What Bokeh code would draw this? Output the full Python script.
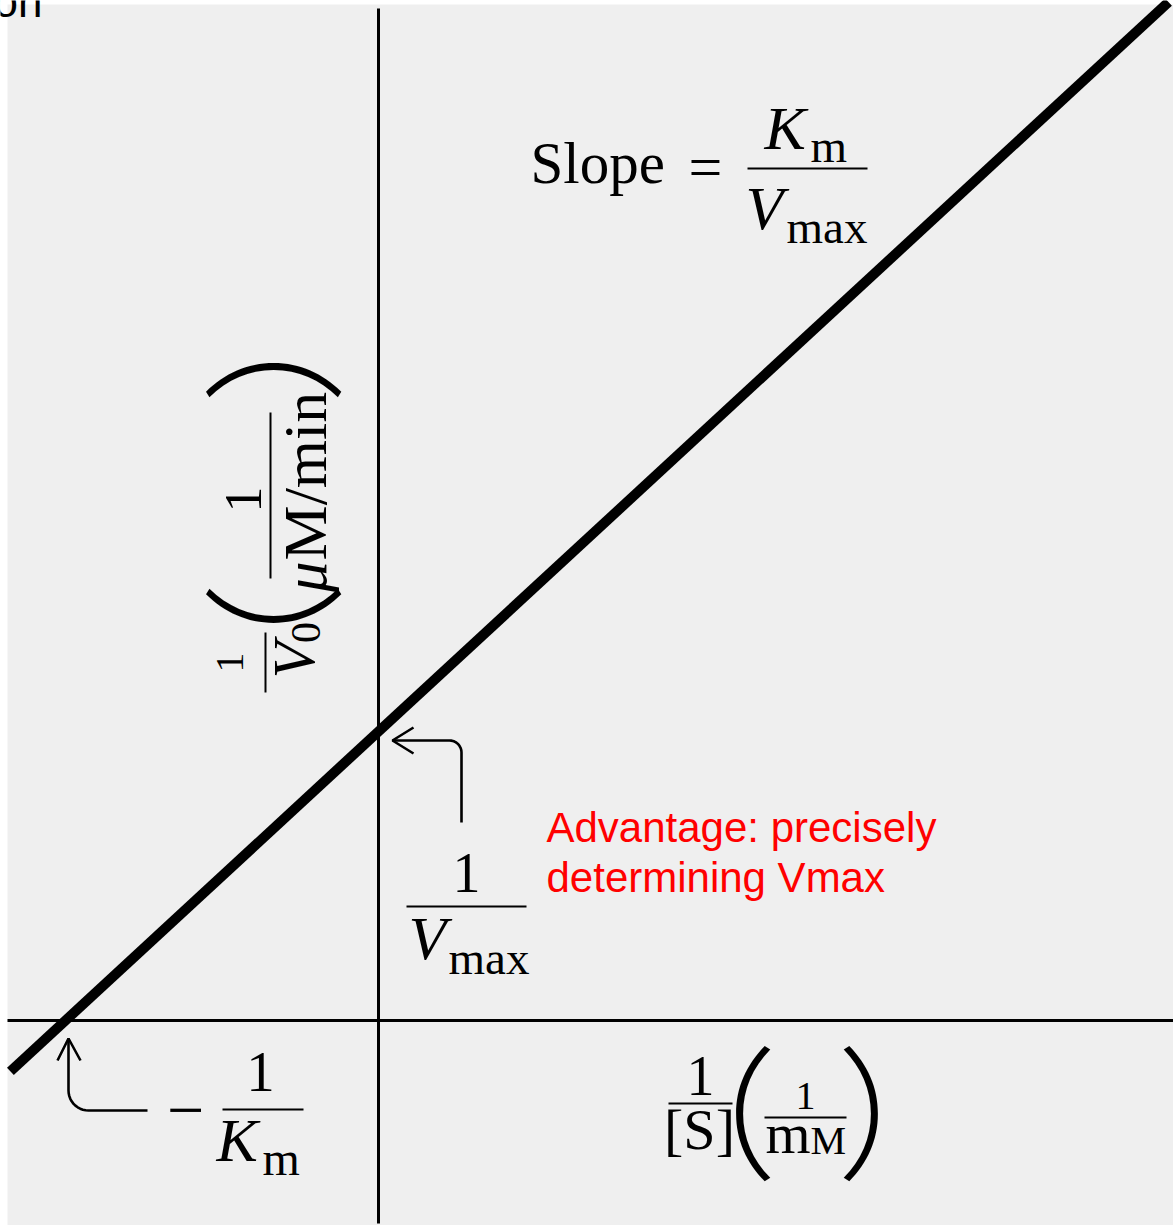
import math
import numpy as np
from bokeh.plotting import figure
from bokeh.models import Range1d
from bokeh.core.properties import value
from bokeh.embed import file_html
from bokeh.resources import INLINE

# Lineweaver-Burk (double reciprocal) plot
km = 2.0          # mM
vmax = 2.0        # uM/min
s_inv = [-0.588, 1.262]   # 1/[S] (1/mM), ends of the drawn line
v_inv = [-0.088, 1.762]   # 1/V0 (1/(uM/min)) at those ends

W, H = 1173, 1225
# canvas layout: where the origin sits and how many pixels per unit
OX, OY = 378, 1020
SX, SY = 626, 578


def X(px):
    return (px - OX) / SX


def Y(py):
    return (OY - py) / SY


p = figure(width=W, height=H, output_backend="svg", toolbar_location=None,
           x_range=Range1d(X(0), X(W)), y_range=Range1d(Y(H), Y(0)),
           x_axis_location=None, y_axis_location=None, min_border=0,
           background_fill_color="white", border_fill_color="white",
           outline_line_color=None)
p.grid.visible = False

# panel
p.quad(left=X(7), right=X(W), bottom=Y(H), top=Y(4),
       fill_color="#efefef", line_color=None)

# coordinate axes through the origin
p.line([X(7), X(W)], [0, 0], line_color="black", line_width=3)
p.line([0, 0], [Y(1223), Y(8)], line_color="black", line_width=3)

# the fitted line
p.line(s_inv, v_inv, line_color="black", line_width=10, line_cap="butt")

SERIF = value("Liberation Serif")
CJK = value("Noto Sans CJK SC Light")
R = math.pi / 2
# the svg text sits about this fraction of its size below the given baseline
K = 0.36
# fullwidth brackets sit off-centre in their em box
PO = 0.35


def tex(px, py, s, size, style="normal", align="left", angle=0.0,
        font=SERIF, color="black"):
    if angle:
        px -= K * size
    else:
        py -= K * size
    p.text(x=[X(px)], y=[Y(py)], text=[s], text_font=font,
           text_font_size=f"{size}px", text_font_style=style,
           text_align=align, text_baseline="alphabetic", angle=angle,
           text_color=color)


def paren(cx, cy, s, size, angle=0.0):
    sign = -1 if s == "（" else 1
    if angle:
        cx -= 9
        cy -= sign * PO * size
    else:
        cy -= 8
        cx += sign * PO * size
    p.text(x=[X(cx)], y=[Y(cy)], text=[s], text_font=CJK,
           text_font_size=f"{size}px", text_align="center",
           text_baseline="middle", angle=angle, text_color="black")


def rule(x0, y0, x1, y1, w=2):
    p.line([X(x0), X(x1)], [Y(y0), Y(y1)], line_color="black", line_width=w)


# Slope = Km / Vmax
tex(530, 184, "Slope", 59)
tex(705, 188, "=", 60, align="center")
rule(747, 168, 867, 168)
tex(764, 150, "K", 62, style="italic")
tex(810, 162, "m", 47)
tex(745, 230, "V", 62, style="italic")
tex(786, 243, "max", 47)

# y-axis label: 1/V0 (1/(uM/min)), rotated
tex(244, 662, "1", 40, align="center", angle=R)
rule(265, 632, 265, 692)
tex(315, 678, "V", 60, style="italic", angle=R)
tex(321, 632, "0", 42, align="center", angle=R)
paren(274, 603, "（", 143, angle=R)
tex(262, 499, "1", 52, align="center", angle=R)
rule(270, 412, 270, 578)
tex(327, 592, "μ", 62, style="italic", angle=R)
tex(327, 560, "M/min", 62, angle=R)
paren(274, 382, "）", 143, angle=R)

# 1/Vmax label and its arrow
tex(466, 893, "1", 56, align="center")
rule(406, 906, 526, 906)
tex(408, 960, "V", 62, style="italic")
tex(448, 974, "max", 47)

t = np.linspace(0, math.pi / 2, 12)
ax = [461, 461] + list(449 + 12 * np.cos(t)) + [392]
ay = [822, 752] + list(752 - 12 * np.sin(t)) + [740]
p.line([X(v) for v in ax], [Y(v) for v in ay], line_color="black", line_width=2.6)
p.line([X(413), X(392), X(413)], [Y(727), Y(740), Y(753)],
       line_color="black", line_width=2.6)

# -1/Km label and its arrow
tex(185, 1134, "−", 66, align="center")
tex(260, 1092, "1", 57, align="center")
rule(222, 1109, 303, 1109)
tex(216, 1162, "K", 62, style="italic")
tex(262, 1175, "m", 48)

bx = [147, 88] + list(88 - 20 * np.sin(t)) + [68]
by = [1110, 1110] + list(1090 + 20 * np.cos(t)) + [1038]
p.line([X(v) for v in bx], [Y(v) for v in by], line_color="black", line_width=2.6)
p.line([X(57), X(68), X(80)], [Y(1060), Y(1038), Y(1060)],
       line_color="black", line_width=2.6)

# x-axis label: 1/[S] (1/mM)
tex(700, 1096, "1", 56, align="center")
rule(668, 1103, 732, 1103)
tex(699, 1150, "[S]", 58, align="center")
paren(755, 1113, "（", 143)
tex(805, 1110, "1", 40, align="center")
rule(764, 1117, 846, 1117)
tex(765, 1154, "m", 58)
tex(810, 1154, "M", 40)
paren(858, 1113, "）", 143)

# note
SANS = value("Liberation Sans")
tex(546, 842, "Advantage: precisely", 42, font=SANS, color="#ff0000")
tex(546, 892, "determining Vmax", 42, font=SANS, color="#ff0000")

# heading fragment at the top edge
tex(42, 17, "on", 44, font=SANS, align="right")

open("out.html", "w").write(file_html(p, INLINE))
